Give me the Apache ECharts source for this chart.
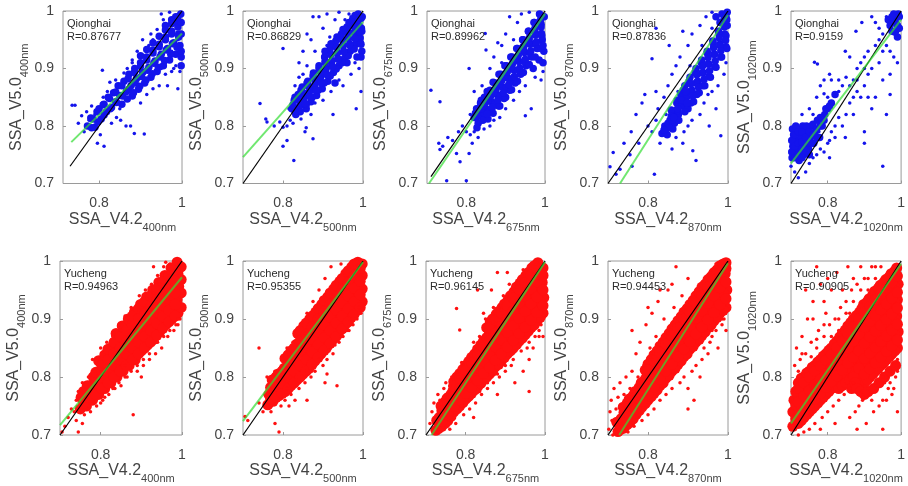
<!DOCTYPE html>
<html>
<head>
<meta charset="utf-8">
<script src="https://cdn.jsdelivr.net/npm/echarts@6/dist/echarts.min.js"></script>
<style>
  html, body { margin: 0; padding: 0; background: #ffffff; }
  #chart { width: 908px; height: 486px; }
</style>
</head>
<body>
<div id="chart"></div>
<script>
// ---------------- data ----------------
const siteNames = ['Qionghai', 'Yucheng'];
const bandLabels = ['400nm', '500nm', '675nm', '870nm', '1020nm'];
const rValues = [
  ['0.87677', '0.86829', '0.89962', '0.87836', '0.9159'],
  ['0.94963', '0.95355', '0.96145', '0.94453', '0.90905']
];
const xMinTop = [0.713, 0.7, 0.7, 0.7, 0.7];
const xMinBottom = [0.7, 0.7, 0.7, 0.7, 0.7];
const xTickValues = [0.8, 1];
const yTickValues = [0.7, 0.8, 0.9, 1];

// 1:1 reference lines and linear fits (end points)
const oneToOneTop = [
  [[0.73, 0.73], [1, 1]], [[0.7, 0.7], [1, 1]], [[0.71, 0.712], [1, 1]], [[0.7, 0.7], [1, 1]], [[0.7, 0.7], [1, 1]]
];
const fitTop = [
  [[0.733, 0.772], [1, 0.961]], [[0.7, 0.746], [1, 0.981]], [[0.705, 0.7], [1, 0.995]], [[0.73, 0.7], [1, 0.993]], [[0.7, 0.735], [1, 0.985]]
];
const oneToOneBottom = [
  [[0.7, 0.7], [1, 1]], [[0.7, 0.7], [1, 1]], [[0.7, 0.7], [1, 1]], [[0.7, 0.7], [1, 1]], [[0.7, 0.7], [1, 1]]
];
const fitBottom = [
  [[0.7, 0.717], [1, 0.972]], [[0.7, 0.724], [1, 0.998]], [[0.714, 0.7], [1, 0.998]], [[0.728, 0.7], [1, 0.996]], [[0.7, 0.72], [1, 0.995]]
];

// Qionghai 400nm
const qh400Dense = [[0.772,0.8],[0.785,0.812],[0.79,0.798],[0.8,0.83],[0.805,0.812],[0.812,0.838],[0.818,0.825],[0.822,0.85],[0.83,0.832],[0.835,0.858],[0.84,0.842],[0.846,0.87],[0.85,0.853],[0.855,0.838],[0.86,0.878],[0.866,0.86],[0.872,0.89],[0.877,0.87],[0.88,0.852],[0.886,0.9],[0.89,0.882],[0.895,0.864],[0.9,0.91],[0.905,0.893],[0.91,0.875],[0.915,0.92],[0.92,0.902],[0.925,0.885],[0.93,0.932],[0.935,0.913],[0.94,0.895],[0.945,0.942],[0.95,0.925],[0.955,0.905],[0.96,0.955],[0.965,0.935],[0.97,0.915],[0.975,0.965],[0.98,0.945],[0.985,0.925],[0.99,0.98],[0.992,0.96],[0.995,0.94],[0.997,0.995],[0.998,0.92],[0.985,0.99],[0.975,0.985],[0.96,0.975]];
const qh400Fill = [[0.78,0.814],[0.782,0.797],[0.795,0.825],[0.797,0.807],[0.81,0.837],[0.812,0.819],[0.825,0.848],[0.827,0.83],[0.84,0.859],[0.842,0.841],[0.855,0.87],[0.857,0.852],[0.87,0.882],[0.872,0.864],[0.868,0.847],[0.885,0.893],[0.887,0.875],[0.883,0.858],[0.9,0.904],[0.902,0.886],[0.898,0.869],[0.9,0.922],[0.915,0.915],[0.917,0.897],[0.913,0.88],[0.915,0.933],[0.93,0.927],[0.932,0.909],[0.928,0.891],[0.93,0.945],[0.945,0.938],[0.947,0.92],[0.943,0.902],[0.945,0.956],[0.96,0.95],[0.962,0.932],[0.958,0.914],[0.96,0.967],[0.975,0.96],[0.977,0.943],[0.973,0.925],[0.975,0.978],[0.99,0.972],[0.992,0.955],[0.988,0.937],[0.99,0.99],[0.998,0.98],[0.998,0.96],[0.998,0.93],[0.998,0.905]];
const qh400Gap = [];
const qh400Sparse = [[0.735,0.836],[0.742,0.836],[0.75,0.805],[0.758,0.818],[0.764,0.79],[0.77,0.825],[0.776,0.81],[0.782,0.835],[0.796,0.77],[0.803,0.785],[0.812,0.765],[0.808,0.897],[0.826,0.876],[0.83,0.805],[0.842,0.815],[0.852,0.81],[0.865,0.8],[0.876,0.8],[0.885,0.787],[0.909,0.786],[0.868,0.9],[0.88,0.915],[0.892,0.93],[0.9,0.84],[0.915,0.855],[0.905,0.95],[0.925,0.96],[0.93,0.865],[0.94,0.968],[0.945,0.87],[0.955,0.985],[0.96,0.89],[0.965,0.87],[0.975,0.895],[0.98,0.9],[0.99,0.865],[0.995,0.895],[0.97,0.998],[0.95,0.995],[0.92,0.94],[0.86,0.892],[0.84,0.88],[0.82,0.86],[0.8,0.81],[0.87,0.845],[0.95,0.9],[0.985,0.905],[0.79,0.82],[0.81,0.85],[0.85,0.83],[0.88,0.91],[0.9,0.87],[0.93,0.95],[0.96,0.91],[0.975,0.93],[0.99,0.95]];

// Qionghai 500nm
const qh500Dense = [[0.822,0.83],[0.828,0.845],[0.832,0.82],[0.838,0.855],[0.842,0.835],[0.848,0.868],[0.852,0.848],[0.858,0.83],[0.862,0.878],[0.866,0.86],[0.87,0.842],[0.876,0.892],[0.88,0.872],[0.884,0.853],[0.89,0.905],[0.894,0.885],[0.898,0.865],[0.904,0.92],[0.908,0.9],[0.912,0.878],[0.918,0.935],[0.922,0.913],[0.926,0.893],[0.932,0.948],[0.936,0.927],[0.94,0.905],[0.946,0.96],[0.95,0.94],[0.954,0.918],[0.96,0.972],[0.964,0.952],[0.968,0.93],[0.974,0.985],[0.978,0.963],[0.982,0.942],[0.988,0.995],[0.99,0.975],[0.993,0.953],[0.997,0.93],[0.998,0.99],[0.996,0.97],[0.985,0.92],[0.96,0.91],[0.93,0.875]];
const qh500Fill = [[0.83,0.85],[0.832,0.83],[0.845,0.862],[0.847,0.842],[0.843,0.825],[0.86,0.875],[0.862,0.855],[0.858,0.837],[0.875,0.887],[0.877,0.867],[0.873,0.85],[0.89,0.9],[0.892,0.88],[0.888,0.862],[0.905,0.912],[0.907,0.892],[0.903,0.875],[0.905,0.93],[0.92,0.925],[0.922,0.905],[0.918,0.887],[0.92,0.943],[0.935,0.937],[0.937,0.917],[0.933,0.899],[0.935,0.955],[0.95,0.95],[0.952,0.93],[0.948,0.91],[0.95,0.968],[0.965,0.962],[0.967,0.942],[0.963,0.922],[0.965,0.98],[0.98,0.975],[0.982,0.955],[0.978,0.934],[0.98,0.992],[0.995,0.987],[0.997,0.965],[0.993,0.945],[0.995,0.92]];
const qh500Gap = [[0.864,0.869],[0.868,0.851],[0.878,0.882],[0.882,0.862],[0.892,0.895],[0.896,0.875],[0.906,0.91],[0.91,0.889],[0.92,0.924],[0.924,0.903],[0.934,0.937],[0.938,0.916],[0.948,0.95],[0.952,0.929],[0.962,0.962],[0.966,0.941],[0.976,0.974],[0.98,0.952],[0.989,0.985],[0.992,0.964],[0.995,0.942],[0.825,0.837],[0.83,0.825],[0.84,0.845],[0.845,0.84],[0.85,0.858],[0.855,0.839]];
const qh500Sparse = [[0.7425,0.839],[0.757,0.812],[0.76,0.807],[0.778,0.8],[0.792,0.807],[0.8,0.798],[0.81,0.775],[0.8,0.765],[0.827,0.74],[0.855,0.79],[0.858,0.797],[0.875,0.778],[0.925,0.82],[0.983,0.83],[0.8,0.935],[0.875,0.99],[0.89,0.99],[0.917,0.955],[0.84,0.91],[0.85,0.93],[0.86,0.96],[0.87,0.95],[0.9,0.97],[0.91,0.995],[0.93,0.985],[0.94,0.998],[0.86,0.905],[0.88,0.93],[0.815,0.83],[0.818,0.81],[0.825,0.805],[0.845,0.812],[0.87,0.82],[0.9,0.845],[0.92,0.86],[0.95,0.87],[0.97,0.89],[0.99,0.9],[0.995,0.86],[0.98,0.91],[0.955,0.985],[0.965,0.995],[0.83,0.87],[0.84,0.885],[0.81,0.8],[0.85,0.89],[0.88,0.84],[0.91,0.94],[0.94,0.88],[0.97,0.99]];

// Qionghai 675nm
const qh675Dense = [[0.82,0.815],[0.826,0.83],[0.83,0.805],[0.836,0.84],[0.84,0.82],[0.846,0.85],[0.85,0.83],[0.855,0.812],[0.86,0.862],[0.864,0.842],[0.868,0.822],[0.874,0.875],[0.878,0.855],[0.882,0.835],[0.888,0.89],[0.892,0.868],[0.896,0.848],[0.902,0.905],[0.906,0.883],[0.91,0.862],[0.916,0.92],[0.92,0.898],[0.924,0.875],[0.93,0.935],[0.934,0.912],[0.938,0.89],[0.944,0.95],[0.948,0.928],[0.952,0.905],[0.958,0.965],[0.962,0.942],[0.966,0.92],[0.972,0.98],[0.976,0.958],[0.98,0.935],[0.986,0.995],[0.99,0.972],[0.993,0.95],[0.997,0.93],[0.998,0.99],[0.995,0.91],[0.985,0.915],[0.97,0.9]];
const qh675Fill = [[0.825,0.815],[0.827,0.797],[0.84,0.83],[0.842,0.81],[0.838,0.845],[0.855,0.844],[0.857,0.824],[0.853,0.86],[0.87,0.858],[0.872,0.838],[0.868,0.876],[0.885,0.873],[0.887,0.853],[0.883,0.89],[0.885,0.835],[0.9,0.888],[0.902,0.868],[0.898,0.905],[0.9,0.85],[0.915,0.903],[0.917,0.882],[0.913,0.92],[0.915,0.863],[0.93,0.917],[0.932,0.897],[0.928,0.935],[0.93,0.878],[0.945,0.932],[0.947,0.912],[0.943,0.95],[0.945,0.893],[0.96,0.947],[0.962,0.927],[0.958,0.965],[0.96,0.907],[0.975,0.962],[0.977,0.942],[0.973,0.98],[0.975,0.92],[0.99,0.977],[0.992,0.957],[0.988,0.993],[0.99,0.935]];
const qh675Gap = [[0.862,0.852],[0.866,0.832],[0.876,0.865],[0.88,0.845],[0.89,0.879],[0.894,0.858],[0.904,0.894],[0.908,0.872],[0.918,0.909],[0.922,0.886],[0.932,0.923],[0.936,0.901],[0.946,0.939],[0.95,0.916],[0.96,0.953],[0.964,0.931],[0.974,0.969],[0.978,0.946],[0.988,0.983],[0.991,0.961],[0.995,0.94],[0.823,0.822],[0.828,0.817],[0.833,0.83],[0.838,0.83],[0.843,0.835],[0.848,0.84],[0.852,0.821],[0.857,0.852]];
const qh675Sparse = [[0.71,0.862],[0.733,0.842],[0.73,0.77],[0.733,0.759],[0.74,0.765],[0.753,0.78],[0.775,0.752],[0.784,0.738],[0.75,0.705],[0.8,0.705],[0.807,0.9],[0.807,0.752],[0.815,0.77],[0.848,0.961],[0.85,0.932],[0.91,0.99],[0.92,0.95],[0.95,0.818],[0.965,0.83],[0.79,0.8],[0.8,0.79],[0.81,0.785],[0.82,0.79],[0.83,0.78],[0.845,0.795],[0.86,0.8],[0.87,0.81],[0.885,0.815],[0.9,0.83],[0.92,0.845],[0.935,0.86],[0.95,0.87],[0.975,0.885],[0.99,0.88],[0.995,0.895],[0.86,0.9],[0.87,0.92],[0.88,0.945],[0.9,0.96],[0.93,0.98],[0.94,0.995],[0.96,0.998],[0.89,0.94],[0.84,0.87],[0.82,0.86],[0.765,0.775],[0.78,0.79],[0.81,0.82],[0.85,0.86],[0.89,0.91],[0.94,0.94],[0.98,0.96]];

// Qionghai 870nm
const qh870Dense = [[0.835,0.787],[0.842,0.8],[0.848,0.785],[0.855,0.81],[0.86,0.825],[0.866,0.805],[0.872,0.84],[0.876,0.82],[0.882,0.855],[0.886,0.835],[0.892,0.87],[0.896,0.85],[0.9,0.83],[0.905,0.885],[0.91,0.862],[0.914,0.842],[0.92,0.9],[0.924,0.878],[0.928,0.858],[0.934,0.915],[0.938,0.893],[0.942,0.87],[0.948,0.93],[0.952,0.908],[0.956,0.885],[0.962,0.948],[0.966,0.925],[0.97,0.902],[0.976,0.965],[0.98,0.942],[0.984,0.92],[0.99,0.985],[0.992,0.96],[0.995,0.938],[0.998,0.998],[0.998,0.975],[0.985,0.995],[0.97,0.99]];
const qh870Fill = [[0.845,0.795],[0.85,0.805],[0.86,0.81],[0.862,0.795],[0.858,0.828],[0.875,0.827],[0.877,0.81],[0.873,0.845],[0.89,0.843],[0.892,0.825],[0.888,0.862],[0.905,0.86],[0.907,0.84],[0.903,0.878],[0.92,0.875],[0.922,0.855],[0.918,0.893],[0.935,0.892],[0.937,0.87],[0.933,0.91],[0.95,0.908],[0.952,0.886],[0.948,0.927],[0.965,0.925],[0.967,0.903],[0.963,0.944],[0.98,0.94],[0.982,0.92],[0.978,0.96],[0.98,0.98],[0.995,0.957],[0.997,0.935],[0.993,0.975],[0.995,0.99]];
const qh870Gap = [[0.874,0.83],[0.884,0.845],[0.894,0.86],[0.898,0.84],[0.907,0.873],[0.912,0.852],[0.922,0.889],[0.926,0.868],[0.936,0.904],[0.94,0.881],[0.95,0.919],[0.954,0.896],[0.964,0.936],[0.968,0.913],[0.978,0.953],[0.982,0.931],[0.991,0.972],[0.994,0.949],[0.997,0.985],[0.852,0.797],[0.858,0.817],[0.864,0.815],[0.84,0.793]];
const qh870Sparse = [[0.705,0.729],[0.713,0.754],[0.72,0.716],[0.73,0.725],[0.755,0.75],[0.758,0.79],[0.777,0.77],[0.785,0.84],[0.792,0.855],[0.77,0.82],[0.82,0.86],[0.81,0.917],[0.853,0.94],[0.82,0.97],[0.887,0.965],[0.912,0.757],[0.92,0.74],[0.816,0.716],[0.887,0.77],[0.953,0.8],[0.97,0.83],[0.982,0.783],[0.8,0.8],[0.81,0.79],[0.82,0.81],[0.83,0.77],[0.825,0.83],[0.84,0.85],[0.85,0.87],[0.86,0.89],[0.87,0.905],[0.88,0.92],[0.9,0.94],[0.91,0.96],[0.93,0.975],[0.945,0.99],[0.96,0.998],[0.86,0.76],[0.87,0.78],[0.9,0.8],[0.93,0.82],[0.94,0.84],[0.96,0.86],[0.975,0.87],[0.99,0.89],[0.995,0.91],[0.95,0.855],[0.91,0.81],[0.89,0.79],[0.74,0.77],[0.76,0.73],[0.845,0.82],[0.875,0.86],[0.905,0.905],[0.935,0.94],[0.96,0.97]];

// Qionghai 1020nm
const qh1020Dense = [[0.703,0.745],[0.705,0.765],[0.707,0.785],[0.712,0.755],[0.715,0.775],[0.718,0.795],[0.722,0.74],[0.725,0.762],[0.728,0.782],[0.732,0.8],[0.735,0.75],[0.738,0.77],[0.742,0.79],[0.748,0.76],[0.752,0.78],[0.756,0.8],[0.762,0.77],[0.766,0.79],[0.772,0.81],[0.778,0.78],[0.785,0.8],[0.792,0.82],[0.8,0.83],[0.81,0.84],[0.82,0.855],[0.975,0.965],[0.985,0.98],[0.992,0.995],[0.995,0.97],[0.98,0.995],[0.965,0.985],[0.99,0.955]];
const qh1020Fill = [[0.702,0.755],[0.702,0.775],[0.704,0.795],[0.71,0.745],[0.71,0.765],[0.71,0.785],[0.713,0.8],[0.72,0.75],[0.72,0.77],[0.72,0.79],[0.73,0.745],[0.73,0.76],[0.73,0.772],[0.73,0.79],[0.74,0.758],[0.74,0.78],[0.742,0.8],[0.745,0.77],[0.75,0.75],[0.75,0.79],[0.758,0.77],[0.76,0.785],[0.76,0.803],[0.77,0.78],[0.77,0.795],[0.78,0.8],[0.78,0.815],[0.79,0.81],[0.795,0.83],[0.805,0.835],[0.97,0.975],[0.98,0.985],[0.99,0.975],[0.995,0.99],[0.985,0.965],[0.975,0.99]];
const qh1020Gap = [];
const qh1020Sparse = [[0.7,0.73],[0.71,0.72],[0.72,0.71],[0.74,0.72],[0.75,0.735],[0.76,0.745],[0.77,0.75],[0.78,0.76],[0.79,0.755],[0.8,0.77],[0.805,0.745],[0.81,0.79],[0.82,0.8],[0.83,0.815],[0.84,0.8],[0.85,0.82],[0.86,0.84],[0.87,0.85],[0.88,0.86],[0.9,0.87],[0.91,0.89],[0.92,0.9],[0.94,0.91],[0.95,0.93],[0.96,0.94],[0.83,0.86],[0.84,0.87],[0.85,0.885],[0.86,0.87],[0.87,0.88],[0.88,0.9],[0.89,0.91],[0.9,0.92],[0.91,0.93],[0.93,0.94],[0.94,0.95],[0.95,0.96],[0.764,0.911],[0.772,0.908],[0.79,0.88],[0.79,0.856],[0.805,0.89],[0.848,0.93],[0.86,0.92],[0.877,0.965],[0.893,0.98],[0.92,0.99],[0.93,0.98],[0.89,0.85],[0.9,0.79],[0.92,0.83],[0.93,0.85],[0.95,0.88],[0.97,0.89],[0.98,0.92],[0.99,0.91],[0.848,0.78],[0.805,0.775],[0.776,0.79],[0.95,0.73],[0.9,0.77],[0.96,0.82],[0.97,0.855],[0.75,0.83],[0.77,0.85],[0.78,0.87],[0.81,0.88],[0.76,0.82],[0.73,0.82],[0.8,0.85],[0.83,0.88],[0.88,0.88],[0.9,0.9],[0.94,0.97],[0.96,0.99],[0.97,0.93],[0.98,0.96],[0.91,0.85],[0.87,0.82],[0.82,0.78]];

// Yucheng 400nm
const yc400Dense = [[0.75,0.745],[0.752,0.765],[0.765,0.75],[0.763,0.77],[0.767,0.785],[0.78,0.76],[0.778,0.78],[0.782,0.8],[0.795,0.77],[0.793,0.79],[0.797,0.81],[0.795,0.828],[0.81,0.78],[0.808,0.8],[0.812,0.818],[0.81,0.838],[0.825,0.79],[0.823,0.81],[0.827,0.83],[0.825,0.85],[0.84,0.8],[0.838,0.82],[0.842,0.84],[0.84,0.86],[0.838,0.875],[0.855,0.81],[0.853,0.83],[0.857,0.85],[0.855,0.87],[0.853,0.888],[0.87,0.82],[0.868,0.84],[0.872,0.86],[0.87,0.88],[0.868,0.9],[0.885,0.83],[0.883,0.85],[0.887,0.872],[0.885,0.892],[0.883,0.912],[0.9,0.845],[0.898,0.865],[0.902,0.885],[0.9,0.905],[0.898,0.925],[0.915,0.855],[0.913,0.875],[0.917,0.898],[0.915,0.918],[0.913,0.938],[0.93,0.865],[0.928,0.888],[0.932,0.91],[0.93,0.93],[0.928,0.95],[0.945,0.878],[0.943,0.9],[0.947,0.922],[0.945,0.943],[0.943,0.963],[0.96,0.89],[0.958,0.912],[0.962,0.935],[0.96,0.955],[0.958,0.975],[0.975,0.9],[0.973,0.922],[0.977,0.945],[0.975,0.967],[0.973,0.988],[0.99,0.91],[0.988,0.933],[0.992,0.956],[0.99,0.978],[0.988,0.998],[0.998,0.92],[0.998,0.945],[0.998,0.968],[0.998,0.99]];
const yc400Fill = [[0.758,0.755],[0.758,0.775],[0.773,0.765],[0.773,0.785],[0.788,0.77],[0.788,0.79],[0.788,0.808],[0.803,0.78],[0.803,0.8],[0.803,0.82],[0.818,0.79],[0.818,0.81],[0.818,0.83],[0.818,0.848],[0.833,0.8],[0.833,0.82],[0.833,0.84],[0.833,0.86],[0.848,0.81],[0.848,0.83],[0.848,0.85],[0.848,0.87],[0.863,0.82],[0.863,0.84],[0.863,0.86],[0.863,0.88],[0.878,0.83],[0.878,0.85],[0.878,0.87],[0.878,0.89],[0.878,0.905],[0.893,0.84],[0.893,0.86],[0.893,0.88],[0.893,0.9],[0.893,0.918],[0.908,0.85],[0.908,0.87],[0.908,0.89],[0.908,0.91],[0.908,0.93],[0.923,0.86],[0.923,0.88],[0.923,0.9],[0.923,0.92],[0.923,0.94],[0.938,0.872],[0.938,0.892],[0.938,0.912],[0.938,0.932],[0.938,0.952],[0.953,0.884],[0.953,0.904],[0.953,0.924],[0.953,0.944],[0.953,0.964],[0.968,0.895],[0.968,0.915],[0.968,0.935],[0.968,0.955],[0.968,0.975],[0.983,0.905],[0.983,0.925],[0.983,0.945],[0.983,0.965],[0.983,0.985]];
const yc400Gap = [];
const yc400Sparse = [[0.705,0.705],[0.712,0.715],[0.72,0.73],[0.728,0.745],[0.735,0.74],[0.74,0.725],[0.745,0.705],[0.755,0.72],[0.76,0.735],[0.77,0.8],[0.775,0.74],[0.78,0.83],[0.79,0.75],[0.8,0.85],[0.805,0.76],[0.815,0.86],[0.82,0.77],[0.83,0.87],[0.835,0.78],[0.845,0.89],[0.85,0.785],[0.86,0.905],[0.865,0.8],[0.875,0.92],[0.88,0.735],[0.89,0.81],[0.895,0.94],[0.905,0.82],[0.91,0.95],[0.92,0.83],[0.925,0.96],[0.935,0.84],[0.94,0.975],[0.95,0.85],[0.955,0.99],[0.965,0.87],[0.97,0.995],[0.98,0.88],[0.985,0.89],[0.995,0.9],[0.93,0.99],[0.96,0.998],[0.99,0.89],[0.74,0.76],[0.745,0.775],[0.755,0.79],[0.77,0.745],[0.785,0.81],[0.8,0.755],[0.81,0.765],[0.82,0.85],[0.83,0.78],[0.845,0.79],[0.85,0.88],[0.86,0.8],[0.87,0.895],[0.875,0.81],[0.89,0.82],[0.895,0.915],[0.905,0.83],[0.915,0.935],[0.92,0.84],[0.93,0.945],[0.94,0.86],[0.945,0.96],[0.955,0.87],[0.965,0.98],[0.97,0.88],[0.985,0.995],[0.99,0.9],[0.86,0.82],[0.9,0.8]];

// Yucheng 500nm
const yc500Dense = [[0.762,0.752],[0.765,0.77],[0.775,0.758],[0.777,0.777],[0.773,0.795],[0.79,0.768],[0.792,0.787],[0.788,0.805],[0.805,0.775],[0.807,0.795],[0.803,0.815],[0.805,0.832],[0.82,0.785],[0.822,0.805],[0.818,0.825],[0.82,0.845],[0.835,0.795],[0.837,0.815],[0.833,0.837],[0.835,0.857],[0.837,0.875],[0.85,0.805],[0.852,0.825],[0.848,0.847],[0.85,0.868],[0.852,0.888],[0.865,0.815],[0.867,0.838],[0.863,0.86],[0.865,0.88],[0.867,0.9],[0.88,0.828],[0.882,0.85],[0.878,0.872],[0.88,0.893],[0.882,0.912],[0.895,0.84],[0.897,0.862],[0.893,0.885],[0.895,0.905],[0.897,0.925],[0.91,0.852],[0.912,0.875],[0.908,0.898],[0.91,0.918],[0.912,0.938],[0.925,0.865],[0.927,0.888],[0.923,0.91],[0.925,0.932],[0.927,0.952],[0.94,0.878],[0.942,0.9],[0.938,0.922],[0.94,0.945],[0.942,0.965],[0.955,0.89],[0.957,0.912],[0.953,0.935],[0.955,0.957],[0.957,0.978],[0.97,0.902],[0.972,0.925],[0.968,0.948],[0.97,0.97],[0.972,0.99],[0.985,0.915],[0.987,0.938],[0.983,0.96],[0.985,0.982],[0.987,0.998],[0.998,0.93],[0.998,0.952],[0.998,0.975],[0.998,0.995]];
const yc500Fill = [[0.769,0.762],[0.769,0.782],[0.783,0.765],[0.783,0.785],[0.783,0.8],[0.798,0.772],[0.798,0.79],[0.798,0.81],[0.813,0.78],[0.813,0.8],[0.813,0.82],[0.813,0.838],[0.828,0.79],[0.828,0.81],[0.828,0.83],[0.828,0.85],[0.843,0.8],[0.843,0.82],[0.843,0.842],[0.843,0.862],[0.843,0.88],[0.858,0.81],[0.858,0.83],[0.858,0.852],[0.858,0.873],[0.858,0.893],[0.873,0.822],[0.873,0.843],[0.873,0.865],[0.873,0.886],[0.873,0.905],[0.888,0.834],[0.888,0.856],[0.888,0.878],[0.888,0.9],[0.888,0.918],[0.903,0.846],[0.903,0.868],[0.903,0.89],[0.903,0.912],[0.903,0.932],[0.918,0.858],[0.918,0.88],[0.918,0.903],[0.918,0.925],[0.918,0.945],[0.933,0.87],[0.933,0.893],[0.933,0.915],[0.933,0.938],[0.933,0.958],[0.948,0.883],[0.948,0.905],[0.948,0.928],[0.948,0.95],[0.948,0.97],[0.963,0.895],[0.963,0.918],[0.963,0.94],[0.963,0.962],[0.963,0.983],[0.978,0.908],[0.978,0.93],[0.978,0.953],[0.978,0.975],[0.978,0.995],[0.993,0.92],[0.993,0.942],[0.993,0.965],[0.993,0.987]];
const yc500Gap = [];
const yc500Sparse = [[0.705,0.732],[0.712,0.725],[0.74,0.85],[0.74,0.755],[0.75,0.74],[0.755,0.77],[0.76,0.8],[0.77,0.74],[0.78,0.72],[0.79,0.705],[0.795,0.75],[0.8,0.82],[0.805,0.76],[0.81,0.85],[0.815,0.75],[0.82,0.77],[0.825,0.86],[0.83,0.76],[0.84,0.78],[0.845,0.89],[0.855,0.79],[0.86,0.91],[0.87,0.8],[0.875,0.93],[0.88,0.81],[0.89,0.95],[0.9,0.82],[0.905,0.97],[0.91,0.83],[0.92,0.99],[0.925,0.84],[0.905,0.79],[0.94,0.86],[0.945,0.995],[0.95,0.87],[0.96,0.9],[0.965,0.88],[0.975,0.89],[0.985,0.9],[0.99,0.92],[0.995,0.91],[0.935,0.785],[0.78,0.81],[0.86,0.76],[0.91,0.805],[0.755,0.755],[0.765,0.785],[0.785,0.8],[0.795,0.765],[0.81,0.78],[0.815,0.84],[0.83,0.855],[0.84,0.8],[0.855,0.875],[0.86,0.81],[0.875,0.82],[0.885,0.905],[0.89,0.83],[0.9,0.92],[0.915,0.845],[0.92,0.94],[0.93,0.855],[0.935,0.96],[0.945,0.87],[0.955,0.975],[0.96,0.88],[0.975,0.9],[0.98,0.99],[0.99,0.91]];

// Yucheng 675nm
const yc675Dense = [[0.725,0.708],[0.727,0.725],[0.74,0.715],[0.742,0.733],[0.738,0.75],[0.755,0.725],[0.757,0.745],[0.753,0.763],[0.77,0.74],[0.772,0.758],[0.768,0.776],[0.77,0.792],[0.785,0.75],[0.787,0.77],[0.783,0.79],[0.785,0.806],[0.8,0.762],[0.802,0.782],[0.798,0.802],[0.8,0.82],[0.815,0.772],[0.817,0.793],[0.813,0.815],[0.815,0.834],[0.83,0.783],[0.832,0.805],[0.828,0.827],[0.83,0.848],[0.845,0.795],[0.847,0.817],[0.843,0.84],[0.845,0.862],[0.86,0.805],[0.862,0.828],[0.858,0.852],[0.86,0.875],[0.862,0.895],[0.875,0.818],[0.877,0.84],[0.873,0.865],[0.875,0.888],[0.877,0.908],[0.89,0.828],[0.892,0.852],[0.888,0.876],[0.89,0.9],[0.892,0.92],[0.905,0.84],[0.907,0.865],[0.903,0.89],[0.905,0.913],[0.907,0.933],[0.92,0.85],[0.922,0.876],[0.918,0.902],[0.92,0.926],[0.922,0.947],[0.935,0.862],[0.937,0.888],[0.933,0.914],[0.935,0.94],[0.937,0.962],[0.95,0.873],[0.952,0.9],[0.948,0.926],[0.95,0.952],[0.952,0.975],[0.965,0.885],[0.967,0.912],[0.963,0.94],[0.965,0.965],[0.967,0.988],[0.98,0.897],[0.982,0.925],[0.978,0.952],[0.98,0.977],[0.982,0.997],[0.995,0.91],[0.997,0.937],[0.993,0.963],[0.995,0.988]];
const yc675Fill = [[0.733,0.712],[0.733,0.73],[0.748,0.72],[0.748,0.74],[0.748,0.757],[0.763,0.732],[0.763,0.75],[0.763,0.77],[0.778,0.745],[0.778,0.763],[0.778,0.782],[0.778,0.8],[0.793,0.756],[0.793,0.776],[0.793,0.796],[0.793,0.813],[0.808,0.767],[0.808,0.787],[0.808,0.808],[0.808,0.827],[0.823,0.778],[0.823,0.8],[0.823,0.82],[0.823,0.84],[0.838,0.789],[0.838,0.81],[0.838,0.833],[0.838,0.855],[0.853,0.8],[0.853,0.822],[0.853,0.846],[0.853,0.868],[0.853,0.885],[0.868,0.81],[0.868,0.834],[0.868,0.858],[0.868,0.88],[0.868,0.9],[0.883,0.822],[0.883,0.846],[0.883,0.87],[0.883,0.894],[0.883,0.913],[0.898,0.834],[0.898,0.858],[0.898,0.883],[0.898,0.906],[0.898,0.926],[0.913,0.845],[0.913,0.87],[0.913,0.895],[0.913,0.92],[0.913,0.94],[0.928,0.856],[0.928,0.882],[0.928,0.908],[0.928,0.933],[0.928,0.955],[0.943,0.867],[0.943,0.894],[0.943,0.92],[0.943,0.946],[0.943,0.968],[0.958,0.879],[0.958,0.906],[0.958,0.933],[0.958,0.958],[0.958,0.98],[0.973,0.89],[0.973,0.918],[0.973,0.946],[0.973,0.97],[0.973,0.992],[0.988,0.903],[0.988,0.93],[0.988,0.957],[0.988,0.982]];
const yc675Gap = [[0.74,0.724],[0.74,0.742],[0.755,0.735],[0.755,0.754],[0.77,0.749],[0.77,0.767],[0.77,0.784],[0.785,0.76],[0.785,0.78],[0.785,0.798],[0.8,0.772],[0.8,0.792],[0.8,0.811],[0.815,0.782],[0.815,0.804],[0.815,0.824],[0.83,0.794],[0.83,0.816],[0.83,0.838],[0.845,0.806],[0.845,0.828],[0.845,0.851],[0.86,0.816],[0.86,0.84],[0.86,0.863],[0.86,0.885],[0.875,0.829],[0.875,0.852],[0.875,0.876],[0.875,0.898],[0.89,0.84],[0.89,0.864],[0.89,0.888],[0.89,0.91],[0.905,0.852],[0.905,0.877],[0.905,0.901],[0.905,0.923],[0.92,0.863],[0.92,0.889],[0.92,0.914],[0.92,0.936],[0.935,0.875],[0.935,0.901],[0.935,0.927],[0.935,0.951],[0.95,0.886],[0.95,0.913],[0.95,0.939],[0.95,0.963],[0.965,0.898],[0.965,0.926],[0.965,0.952],[0.965,0.976],[0.98,0.911],[0.98,0.938],[0.98,0.964],[0.98,0.987],[0.995,0.923],[0.995,0.95],[0.995,0.975]];
const yc675Sparse = [[0.71,0.72],[0.715,0.74],[0.72,0.755],[0.73,0.77],[0.735,0.705],[0.745,0.78],[0.75,0.79],[0.76,0.71],[0.765,0.8],[0.775,0.72],[0.777,0.918],[0.785,0.881],[0.79,0.825],[0.795,0.735],[0.83,0.95],[0.81,0.745],[0.82,0.86],[0.825,0.755],[0.835,0.87],[0.84,0.77],[0.85,0.9],[0.855,0.78],[0.865,0.95],[0.87,0.79],[0.88,0.98],[0.885,0.8],[0.895,0.94],[0.9,0.81],[0.91,0.96],[0.915,0.82],[0.924,0.79],[0.945,0.81],[0.945,0.985],[0.955,0.85],[0.96,0.83],[0.97,0.85],[0.975,0.87],[0.985,0.88],[0.99,0.89],[0.995,0.87],[0.96,0.775],[0.88,0.77],[0.82,0.73],[0.845,0.91],[0.87,0.92],[0.905,0.98],[0.735,0.76],[0.75,0.77],[0.76,0.785],[0.78,0.8],[0.79,0.75],[0.805,0.83],[0.81,0.76],[0.825,0.845],[0.835,0.775],[0.85,0.88],[0.855,0.79],[0.87,0.895],[0.88,0.805],[0.89,0.915],[0.9,0.82],[0.91,0.935],[0.92,0.83],[0.93,0.955],[0.94,0.845],[0.95,0.965],[0.96,0.86],[0.975,0.99],[0.985,0.87]];

// Yucheng 870nm
const yc870Dense = [[0.725,0.706],[0.722,0.722],[0.74,0.712],[0.742,0.73],[0.738,0.748],[0.755,0.722],[0.757,0.742],[0.753,0.762],[0.77,0.735],[0.772,0.755],[0.768,0.775],[0.785,0.748],[0.787,0.768],[0.783,0.79],[0.8,0.76],[0.802,0.782],[0.798,0.803],[0.8,0.822],[0.815,0.772],[0.817,0.795],[0.813,0.818],[0.815,0.838],[0.83,0.785],[0.832,0.808],[0.828,0.832],[0.83,0.853],[0.845,0.798],[0.847,0.822],[0.843,0.846],[0.845,0.868],[0.86,0.81],[0.862,0.835],[0.858,0.86],[0.86,0.883],[0.875,0.822],[0.877,0.848],[0.873,0.873],[0.875,0.897],[0.89,0.835],[0.892,0.862],[0.888,0.888],[0.89,0.912],[0.905,0.848],[0.907,0.875],[0.903,0.9],[0.905,0.925],[0.92,0.86],[0.922,0.888],[0.918,0.915],[0.92,0.94],[0.935,0.872],[0.937,0.9],[0.933,0.928],[0.935,0.955],[0.95,0.885],[0.952,0.913],[0.948,0.942],[0.95,0.968],[0.965,0.897],[0.967,0.926],[0.963,0.955],[0.965,0.98],[0.98,0.91],[0.982,0.94],[0.978,0.968],[0.98,0.992],[0.995,0.92],[0.997,0.95],[0.993,0.978],[0.995,0.997]];
const yc870Fill = [[0.733,0.71],[0.733,0.728],[0.748,0.718],[0.748,0.737],[0.748,0.755],[0.763,0.728],[0.763,0.748],[0.763,0.768],[0.778,0.742],[0.778,0.762],[0.778,0.782],[0.793,0.754],[0.793,0.775],[0.793,0.796],[0.793,0.812],[0.808,0.766],[0.808,0.788],[0.808,0.81],[0.808,0.83],[0.823,0.778],[0.823,0.8],[0.823,0.823],[0.823,0.845],[0.838,0.79],[0.838,0.814],[0.838,0.838],[0.838,0.86],[0.853,0.803],[0.853,0.828],[0.853,0.852],[0.853,0.875],[0.868,0.815],[0.868,0.84],[0.868,0.866],[0.868,0.89],[0.883,0.828],[0.883,0.854],[0.883,0.88],[0.883,0.904],[0.898,0.84],[0.898,0.867],[0.898,0.893],[0.898,0.918],[0.913,0.853],[0.913,0.88],[0.913,0.907],[0.913,0.932],[0.928,0.865],[0.928,0.893],[0.928,0.92],[0.928,0.947],[0.943,0.878],[0.943,0.906],[0.943,0.935],[0.943,0.96],[0.958,0.89],[0.958,0.92],[0.958,0.948],[0.958,0.973],[0.973,0.903],[0.973,0.933],[0.973,0.96],[0.973,0.985],[0.988,0.915],[0.988,0.945],[0.988,0.972],[0.988,0.995]];
const yc870Gap = [[0.74,0.721],[0.74,0.739],[0.755,0.732],[0.755,0.752],[0.77,0.745],[0.77,0.765],[0.785,0.758],[0.785,0.779],[0.8,0.771],[0.8,0.792],[0.8,0.812],[0.815,0.783],[0.815,0.806],[0.815,0.828],[0.83,0.796],[0.83,0.82],[0.83,0.842],[0.845,0.81],[0.845,0.834],[0.845,0.857],[0.86,0.822],[0.86,0.847],[0.86,0.871],[0.875,0.835],[0.875,0.86],[0.875,0.885],[0.89,0.848],[0.89,0.875],[0.89,0.9],[0.905,0.861],[0.905,0.887],[0.905,0.912],[0.92,0.874],[0.92,0.901],[0.92,0.927],[0.935,0.886],[0.935,0.914],[0.935,0.941],[0.95,0.899],[0.95,0.927],[0.95,0.955],[0.965,0.911],[0.965,0.94],[0.965,0.967],[0.98,0.925],[0.98,0.954],[0.98,0.98],[0.995,0.935],[0.995,0.964],[0.995,0.987]];
const yc870Sparse = [[0.702,0.71],[0.705,0.74],[0.708,0.76],[0.71,0.725],[0.715,0.78],[0.72,0.745],[0.725,0.765],[0.73,0.79],[0.735,0.72],[0.74,0.77],[0.745,0.8],[0.75,0.705],[0.755,0.78],[0.76,0.81],[0.765,0.715],[0.77,0.84],[0.775,0.79],[0.78,0.86],[0.785,0.725],[0.79,0.82],[0.795,0.89],[0.8,0.735],[0.805,0.85],[0.81,0.91],[0.815,0.745],[0.82,0.87],[0.825,0.93],[0.83,0.76],[0.84,0.9],[0.845,0.77],[0.85,0.95],[0.86,0.78],[0.865,0.92],[0.87,0.99],[0.88,0.79],[0.885,0.94],[0.89,0.8],[0.9,0.78],[0.91,0.81],[0.915,0.76],[0.92,0.82],[0.93,0.8],[0.935,0.83],[0.94,0.85],[0.95,0.84],[0.955,0.86],[0.96,0.87],[0.97,0.88],[0.975,0.85],[0.985,0.89],[0.99,0.9],[0.995,0.88],[0.9,0.97],[0.86,0.96],[0.8,0.92],[0.83,0.95],[0.76,0.88],[0.9,0.745],[0.712,0.7],[0.73,0.75],[0.748,0.76],[0.76,0.77],[0.775,0.8],[0.79,0.8],[0.81,0.83],[0.82,0.845],[0.835,0.86],[0.85,0.875],[0.865,0.89],[0.88,0.905],[0.895,0.92],[0.91,0.935],[0.925,0.95],[0.94,0.965],[0.955,0.98],[0.97,0.995],[0.985,0.9],[0.96,0.88],[0.93,0.86]];

// Yucheng 1020nm
const yc1020Dense = [[0.705,0.715],[0.705,0.74],[0.708,0.76],[0.72,0.72],[0.722,0.745],[0.718,0.77],[0.72,0.79],[0.735,0.73],[0.737,0.755],[0.733,0.78],[0.735,0.8],[0.75,0.74],[0.752,0.765],[0.748,0.79],[0.75,0.81],[0.765,0.75],[0.767,0.775],[0.763,0.8],[0.765,0.82],[0.78,0.76],[0.782,0.785],[0.778,0.808],[0.78,0.83],[0.795,0.77],[0.797,0.795],[0.793,0.818],[0.795,0.84],[0.81,0.78],[0.812,0.805],[0.808,0.828],[0.81,0.85],[0.825,0.79],[0.827,0.815],[0.823,0.84],[0.825,0.862],[0.84,0.8],[0.842,0.825],[0.838,0.85],[0.84,0.875],[0.855,0.81],[0.857,0.838],[0.853,0.863],[0.855,0.888],[0.87,0.82],[0.872,0.848],[0.868,0.875],[0.87,0.9],[0.885,0.8],[0.887,0.83],[0.883,0.86],[0.885,0.888],[0.887,0.912],[0.9,0.79],[0.902,0.82],[0.898,0.845],[0.9,0.872],[0.902,0.9],[0.898,0.925],[0.915,0.8],[0.917,0.828],[0.913,0.855],[0.915,0.883],[0.917,0.91],[0.913,0.935],[0.93,0.81],[0.932,0.838],[0.928,0.865],[0.93,0.893],[0.932,0.92],[0.928,0.948],[0.945,0.82],[0.947,0.848],[0.943,0.875],[0.945,0.903],[0.947,0.93],[0.943,0.958],[0.96,0.83],[0.962,0.858],[0.958,0.885],[0.96,0.913],[0.962,0.94],[0.958,0.968],[0.975,0.84],[0.977,0.868],[0.973,0.895],[0.975,0.923],[0.977,0.95],[0.973,0.978],[0.99,0.85],[0.992,0.878],[0.988,0.905],[0.99,0.933],[0.992,0.96],[0.988,0.988]];
const yc1020Fill = [[0.713,0.728],[0.713,0.752],[0.713,0.775],[0.728,0.725],[0.728,0.75],[0.728,0.775],[0.728,0.798],[0.743,0.735],[0.743,0.76],[0.743,0.785],[0.743,0.807],[0.758,0.745],[0.758,0.77],[0.758,0.795],[0.758,0.817],[0.773,0.755],[0.773,0.78],[0.773,0.804],[0.773,0.826],[0.788,0.765],[0.788,0.79],[0.788,0.813],[0.788,0.836],[0.803,0.775],[0.803,0.8],[0.803,0.823],[0.803,0.846],[0.818,0.785],[0.818,0.81],[0.818,0.834],[0.818,0.857],[0.833,0.795],[0.833,0.82],[0.833,0.845],[0.833,0.869],[0.848,0.805],[0.848,0.83],[0.848,0.856],[0.848,0.881],[0.863,0.815],[0.863,0.843],[0.863,0.869],[0.863,0.894],[0.878,0.81],[0.878,0.838],[0.878,0.866],[0.878,0.894],[0.878,0.906],[0.893,0.795],[0.893,0.825],[0.893,0.853],[0.893,0.88],[0.893,0.906],[0.893,0.918],[0.908,0.795],[0.908,0.824],[0.908,0.85],[0.908,0.878],[0.908,0.905],[0.908,0.93],[0.923,0.805],[0.923,0.833],[0.923,0.86],[0.923,0.888],[0.923,0.915],[0.923,0.942],[0.938,0.815],[0.938,0.843],[0.938,0.87],[0.938,0.898],[0.938,0.925],[0.938,0.953],[0.953,0.825],[0.953,0.853],[0.953,0.88],[0.953,0.908],[0.953,0.935],[0.953,0.963],[0.968,0.835],[0.968,0.863],[0.968,0.89],[0.968,0.918],[0.968,0.945],[0.968,0.973],[0.983,0.845],[0.983,0.873],[0.983,0.9],[0.983,0.928],[0.983,0.955],[0.983,0.983],[0.83,0.78],[0.84,0.785],[0.85,0.79],[0.86,0.795],[0.865,0.78],[0.87,0.8],[0.875,0.79],[0.88,0.78],[0.89,0.775],[0.9,0.77],[0.91,0.775],[0.925,0.78],[0.94,0.79],[0.955,0.8],[0.97,0.81],[0.985,0.82]];
const yc1020Gap = [[0.72,0.732],[0.72,0.757],[0.72,0.78],[0.735,0.742],[0.735,0.767],[0.735,0.79],[0.75,0.752],[0.75,0.777],[0.75,0.8],[0.765,0.762],[0.765,0.787],[0.765,0.81],[0.78,0.772],[0.78,0.796],[0.78,0.819],[0.795,0.782],[0.795,0.806],[0.795,0.829],[0.81,0.792],[0.81,0.816],[0.81,0.839],[0.825,0.802],[0.825,0.827],[0.825,0.851],[0.84,0.812],[0.84,0.837],[0.84,0.862],[0.855,0.824],[0.855,0.85],[0.855,0.875],[0.87,0.834],[0.87,0.861],[0.87,0.887],[0.885,0.815],[0.885,0.845],[0.885,0.874],[0.885,0.9],[0.9,0.805],[0.9,0.832],[0.9,0.858],[0.9,0.886],[0.9,0.912],[0.915,0.814],[0.915,0.841],[0.915,0.869],[0.915,0.896],[0.915,0.922],[0.93,0.824],[0.93,0.851],[0.93,0.879],[0.93,0.906],[0.93,0.934],[0.945,0.834],[0.945,0.861],[0.945,0.889],[0.945,0.916],[0.945,0.944],[0.96,0.844],[0.96,0.871],[0.96,0.899],[0.96,0.926],[0.96,0.954],[0.975,0.854],[0.975,0.881],[0.975,0.909],[0.975,0.936],[0.975,0.964],[0.99,0.864],[0.99,0.891],[0.99,0.919],[0.99,0.946],[0.99,0.974]];
const yc1020Sparse = [[0.71,0.82],[0.715,0.85],[0.72,0.7],[0.725,0.83],[0.73,0.87],[0.735,0.705],[0.74,0.84],[0.745,0.9],[0.75,0.71],[0.755,0.86],[0.76,0.93],[0.765,0.72],[0.77,0.85],[0.775,0.88],[0.78,0.96],[0.785,0.73],[0.79,0.87],[0.795,0.91],[0.8,0.74],[0.805,0.89],[0.81,0.95],[0.815,0.75],[0.82,0.9],[0.825,0.98],[0.83,0.76],[0.835,0.92],[0.84,0.95],[0.845,0.77],[0.85,0.93],[0.855,0.99],[0.86,0.78],[0.865,0.95],[0.87,0.97],[0.875,0.74],[0.88,0.96],[0.885,0.75],[0.89,0.99],[0.895,0.76],[0.9,0.97],[0.905,0.72],[0.91,0.95],[0.915,0.77],[0.92,0.99],[0.925,0.74],[0.93,0.97],[0.935,0.78],[0.94,0.75],[0.945,0.99],[0.95,0.76],[0.955,0.79],[0.96,0.8],[0.965,0.78],[0.97,0.81],[0.975,0.77],[0.98,0.82],[0.985,0.8],[0.99,0.83],[0.86,0.73],[0.82,0.72],[0.78,0.71],[0.88,0.71],[0.95,0.71],[0.99,0.74],[0.74,0.95],[0.77,0.99],[0.8,0.97],[0.83,0.88],[0.86,0.91],[0.79,0.93],[0.76,0.9],[0.72,0.81],[0.73,0.84],[0.755,0.835],[0.77,0.865],[0.79,0.89],[0.81,0.87],[0.83,0.9],[0.85,0.91],[0.87,0.93],[0.89,0.95],[0.91,0.97],[0.93,0.99],[0.85,0.785],[0.87,0.79],[0.89,0.77],[0.91,0.78],[0.93,0.79],[0.95,0.8],[0.97,0.79],[0.99,0.81],[0.92,0.76],[0.96,0.76],[0.98,0.78]];

// ---------------- layout & style ----------------
const FONT = 'Liberation Sans, Arial, sans-serif';
const rowTops = [11, 261];
const rowHeights = [172.5, 174];
const colLefts = [[63, 243, 427, 608, 791], [60, 243, 426, 608, 791]];
const colWidths = [[119, 120, 118, 120, 120], [122, 120, 119, 120, 120]];
const siteColors = ['#1414ec', '#ff1010'];
const denseSizes = [7.5, 11];

const denseSets = [
  [qh400Dense.concat(qh400Fill, qh400Gap), qh500Dense.concat(qh500Fill, qh500Gap), qh675Dense.concat(qh675Fill, qh675Gap), qh870Dense.concat(qh870Fill, qh870Gap), qh1020Dense.concat(qh1020Fill, qh1020Gap)],
  [yc400Dense.concat(yc400Fill, yc400Gap), yc500Dense.concat(yc500Fill, yc500Gap), yc675Dense.concat(yc675Fill, yc675Gap), yc870Dense.concat(yc870Fill, yc870Gap), yc1020Dense.concat(yc1020Fill, yc1020Gap)]
];
const sparseSets = [
  [qh400Sparse, qh500Sparse, qh675Sparse, qh870Sparse, qh1020Sparse],
  [yc400Sparse, yc500Sparse, yc675Sparse, yc870Sparse, yc1020Sparse]
];
const oneToOneSets = [oneToOneTop, oneToOneBottom];
const fitSets = [fitTop, fitBottom];
const xMins = [xMinTop, xMinBottom];

const titleRich = {
  m: { fontSize: 16, fontFamily: FONT, color: '#444', lineHeight: 18, verticalAlign: 'top' },
  s: { fontSize: 11, fontFamily: FONT, color: '#444', lineHeight: 12, verticalAlign: 'top', padding: [11, 0, 0, 0] }
};

const grids = [], xAxes = [], yAxes = [], series = [], graphics = [];
const fmt = v => (Math.abs(v - 1) < 1e-9 ? '1' : v.toFixed(1));

for (let r = 0; r < 2; r++) {
  for (let c = 0; c < 5; c++) {
    const idx = r * 5 + c;
    const left = colLefts[r][c], top = rowTops[r];
    grids.push({
      left: left, top: top, width: colWidths[r][c], height: rowHeights[r],
      show: true, borderColor: '#9a9a9a', borderWidth: 1, backgroundColor: '#fff'
    });
    xAxes.push({
      gridIndex: idx, type: 'value', min: xMins[r][c], max: 1,
      axisLine: { show: false },
      axisTick: { show: true, inside: true, length: 3, lineStyle: { color: '#9a9a9a' }, customValues: xTickValues },
      axisLabel: { customValues: xTickValues, formatter: fmt, color: '#444', fontSize: 14, fontFamily: FONT, margin: 13 },
      splitLine: { show: false },
      name: '{m|SSA_V4.2}{s|' + bandLabels[c] + '}',
      nameLocation: 'middle', nameGap: 16,
      nameTextStyle: { color: '#444', fontFamily: FONT, rich: titleRich }
    });
    yAxes.push({
      gridIndex: idx, type: 'value', min: 0.7, max: 1,
      axisLine: { show: false },
      axisTick: { show: true, inside: true, length: 3, lineStyle: { color: '#9a9a9a' }, customValues: yTickValues },
      axisLabel: { customValues: yTickValues, formatter: fmt, color: '#444', fontSize: 14, fontFamily: FONT, margin: 9 },
      splitLine: { show: false },
      name: '{m|SSA_V5.0}{s|' + bandLabels[c] + '}',
      nameLocation: 'middle', nameGap: 18,
      nameTextStyle: { color: '#444', fontFamily: FONT, rich: titleRich }
    });
    series.push({
      type: 'scatter', xAxisIndex: idx, yAxisIndex: idx, data: denseSets[r][c],
      symbolSize: denseSizes[r], itemStyle: { color: siteColors[r], opacity: 1 }, silent: true
    });
    series.push({
      type: 'scatter', xAxisIndex: idx, yAxisIndex: idx, data: sparseSets[r][c],
      symbolSize: 3.5, itemStyle: { color: siteColors[r], opacity: 1 }, silent: true
    });
    series.push({
      type: 'line', xAxisIndex: idx, yAxisIndex: idx, data: oneToOneSets[r][c],
      symbol: 'none', lineStyle: { color: '#000', width: 1.2 }, silent: true
    });
    series.push({
      type: 'line', xAxisIndex: idx, yAxisIndex: idx, data: fitSets[r][c],
      symbol: 'none', lineStyle: { color: '#33dd33', width: 2, opacity: 0.7 }, silent: true
    });
    graphics.push({
      type: 'text', left: left + 4, top: top + 7, z: 100,
      style: { text: siteNames[r], fontSize: 11, fontFamily: FONT, fill: '#2a2a2a' }
    });
    graphics.push({
      type: 'text', left: left + 4, top: top + 20, z: 100,
      style: { text: 'R=' + rValues[r][c], fontSize: 11, fontFamily: FONT, fill: '#2a2a2a' }
    });
  }
}

const chart = echarts.init(document.getElementById('chart'), null, { renderer: 'canvas' });
chart.setOption({
  animation: false,
  backgroundColor: '#ffffff',
  grid: grids,
  xAxis: xAxes,
  yAxis: yAxes,
  series: series,
  graphic: graphics
});
</script>
</body>
</html>
